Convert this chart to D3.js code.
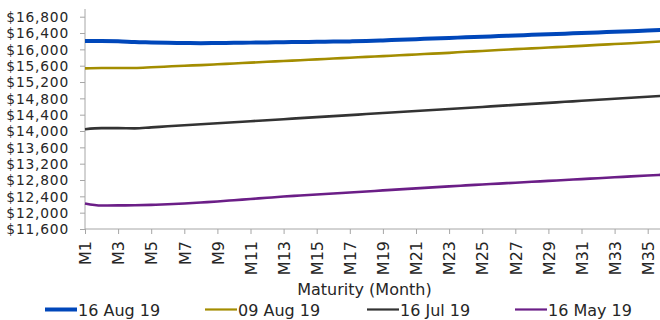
<!DOCTYPE html>
<html><head><meta charset="utf-8">
<script src="https://cdn.jsdelivr.net/npm/d3@7"></script>
<style>body{margin:0;background:#fff}svg{display:block}text{font-family:"DejaVu Sans",sans-serif;fill:#262626}</style>
</head><body><svg id="c" width="660" height="320"></svg>
<script>
const months = d3.range(1, 37).map(i => "M" + i);
const seriesNames = ["16 Aug 19", "09 Aug 19", "16 Jul 19", "16 May 19"];
const aug16 = [16205,16205,16200,16180,16170,16160,16155,16150,16155,16160,16165,16170,16175,16180,16185,16190,16195,16205,16220,16235,16250,16265,16280,16295,16310,16325,16340,16355,16370,16385,16400,16415,16430,16445,16460,16480];
const aug09 = [15535,15545,15545,15545,15560,15580,15600,15615,15635,15655,15675,15695,15715,15735,15755,15775,15795,15815,15835,15855,15875,15895,15915,15940,15960,15985,16005,16025,16045,16065,16085,16110,16130,16150,16175,16200];
const jul16 = [14045,14070,14070,14065,14090,14115,14140,14165,14190,14215,14240,14265,14290,14315,14340,14365,14390,14415,14440,14465,14490,14515,14540,14565,14590,14615,14640,14665,14690,14715,14740,14765,14790,14815,14840,14865];
const may16 = [12225,12175,12178,12182,12192,12205,12225,12250,12275,12305,12335,12365,12395,12420,12445,12470,12495,12520,12545,12570,12595,12620,12645,12668,12690,12712,12734,12756,12778,12800,12822,12844,12866,12888,12910,12930];
const yTicks = d3.range(11600, 16801, 400);
const xTickLabels = months.filter((m, i) => i % 2 === 0);
const colors = ["#0047BA", "#A38D00", "#333333", "#6B1E87"];
const widths = [4, 2.6, 2.6, 2.6];
const legendWidths = [4, 2.2, 2.2, 2.2];
const allSeries = [aug16, aug09, jul16, may16];

const svg = d3.select("#c");
const x = d3.scalePoint().domain(months).range([85, 85 + 35 * 16.55]);
const y = d3.scaleLinear().domain([11600, 16800]).range([229, 16.7]);

// y axis
const yAxis = d3.axisLeft(y).tickValues(yTicks).tickSize(5).tickPadding(11)
  .tickFormat(d => "$" + d3.format(",")(d));
const gy = svg.append("g").attr("transform", "translate(85,0)").call(yAxis);
gy.select(".domain").remove();
gy.append("line").attr("x1", 0).attr("x2", 0).attr("y1", 9).attr("y2", 229).attr("stroke", "#A6A6A6");
gy.selectAll(".tick line").attr("stroke", "#A6A6A6");
gy.selectAll("text").style("font-size", "13.8px").style("letter-spacing", "0.8px")
  .attr("fill", "#262626").attr("dy", "0.36em");

// x axis
const xAxis = d3.axisBottom(x).tickValues(xTickLabels).tickSize(5).tickPadding(0);
const gx = svg.append("g").attr("transform", "translate(0,229)").call(xAxis);
gx.select(".domain").remove();
gx.append("line").attr("x1", 85).attr("x2", 660).attr("y1", 0).attr("y2", 0).attr("stroke", "#A6A6A6");
gx.selectAll(".tick line").attr("stroke", "#A6A6A6");
gx.selectAll("text").style("font-size", "16px").attr("fill", "#262626")
  .attr("text-anchor", "end").attr("transform", "rotate(-90)")
  .attr("x", -12).attr("y", 0).attr("dy", "0.36em");

// lines
const line = d3.line().x((d, i) => x(months[i])).y(d => y(d)).curve(d3.curveMonotoneX);
allSeries.slice().reverse().forEach((s, k) => {
  const i = allSeries.length - 1 - k;
  svg.append("path").datum(s).attr("d", line).attr("fill", "none")
    .attr("stroke", colors[i]).attr("stroke-width", widths[i]).attr("stroke-linejoin", "round");
});

// axis title
svg.append("text").attr("x", 364.5).attr("y", 295).attr("text-anchor", "middle")
  .style("font-size", "16px").text("Maturity (Month)");

// legend
const legX = [45, 205, 367, 515];
seriesNames.forEach((n, i) => {
  svg.append("line").attr("x1", legX[i]).attr("x2", legX[i] + 32).attr("y1", 309.5).attr("y2", 309.5)
    .attr("stroke", colors[i]).attr("stroke-width", legendWidths[i]);
  svg.append("text").attr("x", legX[i] + 33).attr("y", 315.5).style("font-size", "16px").text(n);
});
</script></body></html>
